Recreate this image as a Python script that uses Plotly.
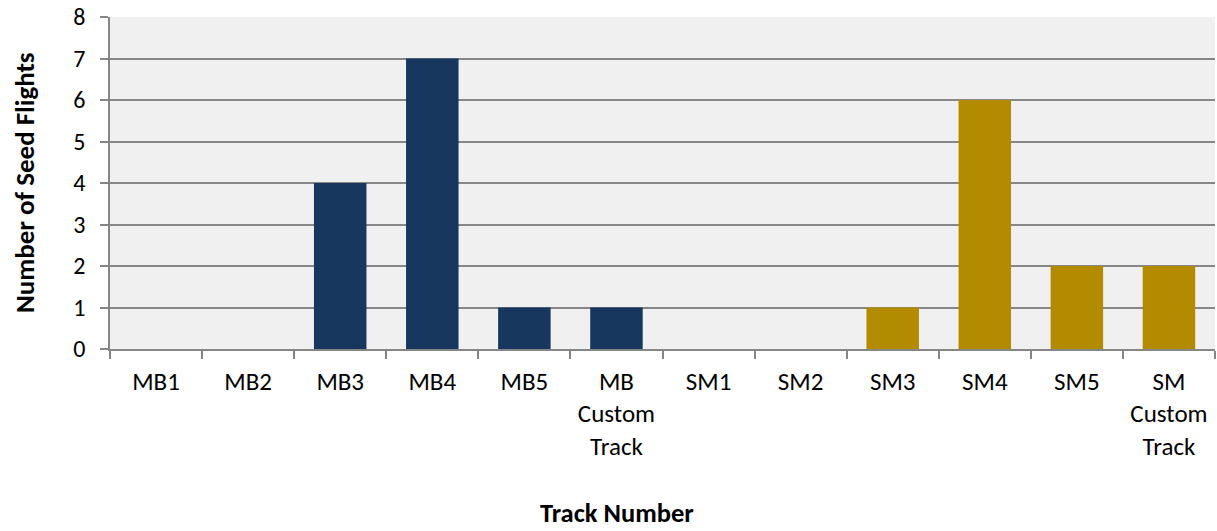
import plotly.graph_objects as go

categories = ["MB1", "MB2", "MB3", "MB4", "MB5", "MB<br>Custom<br>Track",
              "SM1", "SM2", "SM3", "SM4", "SM5", "SM<br>Custom<br>Track"]
values = [0, 0, 4, 7, 1, 1, 0, 0, 1, 6, 2, 2]
groups = ["MB"] * 6 + ["SM"] * 6
y_ticks = [0, 1, 2, 3, 4, 5, 6, 7, 8]

group_colors = {"MB": "#17375e", "SM": "#b38b00"}
bar_colors = [group_colors[g] for g in groups]

font_family = "Carlito, Calibri, 'Open Sans', 'Liberation Sans', sans-serif"

fig = go.Figure(
    go.Bar(x=categories, y=values, marker=dict(color=bar_colors, line=dict(width=0)),
           showlegend=False)
)

fig.update_layout(
    width=1217, height=531,
    margin=dict(l=110, r=2, t=17, b=182),
    paper_bgcolor="white",
    plot_bgcolor="#f0f0f0",
    bargap=0.43,
    font=dict(family=font_family, size=24, color="#000000"),
)

fig.update_xaxes(
    type="category",
    tickson="boundaries",
    ticks="outside", ticklen=8, tickwidth=1.5, tickcolor="#868686",
    showline=True, linecolor="#868686", linewidth=1.5,
    showgrid=False,
    tickfont=dict(size=25),
    ticklabelstandoff=9,
)
fig.update_yaxes(
    range=[0, 8],
    tickvals=y_ticks,
    ticks="outside", ticklen=8, tickwidth=1.5, tickcolor="#868686",
    showline=True, linecolor="#868686", linewidth=1.5,
    showgrid=True, gridcolor="#868686", gridwidth=1.5,
    zeroline=False,
    tickfont=dict(size=24),
    ticklabelstandoff=10,
)

fig.add_annotation(text="<b>Track Number</b>", xref="paper", yref="paper",
                   x=(617 - 110) / 1105, y=0, yshift=-164, showarrow=False,
                   font=dict(size=26.5), xanchor="center", yanchor="middle")
fig.add_annotation(text="<b>Number of Seed Flights</b>", xref="paper", yref="paper",
                   x=0, xshift=-86, y=0.5, showarrow=False, textangle=-90,
                   font=dict(size=27), xanchor="center", yanchor="middle")

fig.write_html("out.html")
